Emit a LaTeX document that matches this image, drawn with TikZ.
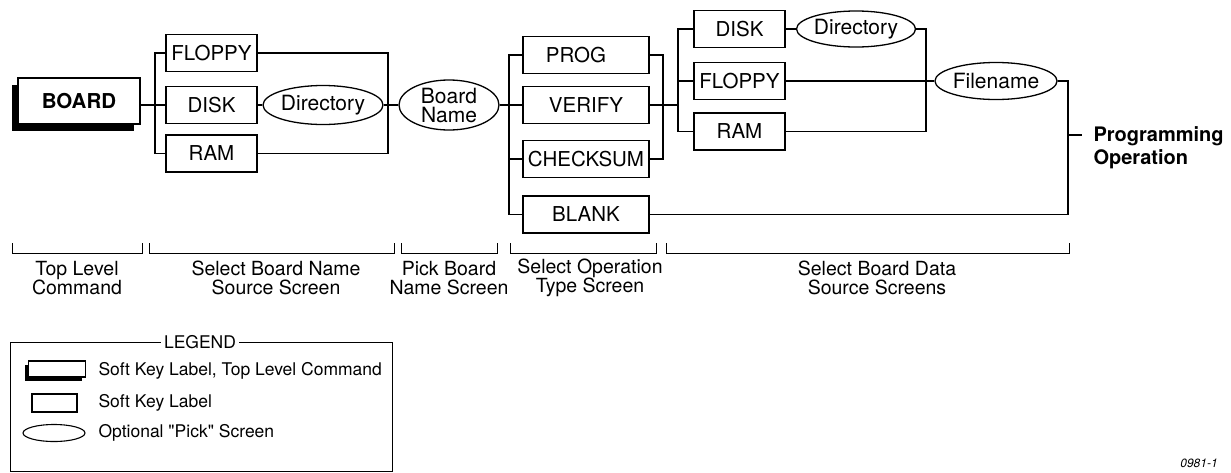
\documentclass[tikz,border=0pt]{standalone}
\usepackage{fontspec}
\setmainfont{TeX Gyre Heros}[Ligatures=TeXOff]
\usetikzlibrary{shapes.geometric,shadows}
\begin{document}
\begin{tikzpicture}[x=1pt,y=-1pt,
  conn/.style={line width=1.15pt},
  key/.style={draw, line width=1.3pt, fill=white, inner sep=0pt, minimum height=37pt, font=\fontsize{20.5}{22}\selectfont},
  pick/.style={draw, ellipse, line width=1.3pt, fill=white, inner sep=0pt, align=center, font=\fontsize{21}{19}\selectfont},
  topkey/.style={draw, line width=2.4pt, fill=white, inner sep=0pt, font=\bfseries\fontsize{20.5}{22}\selectfont,
     drop shadow={shadow xshift=-6.5pt, shadow yshift=-6.5pt, opacity=1, fill=black}},
  lbl/.style={align=center, font=\fontsize{19.5}{19}\selectfont},
  legtext/.style={anchor=west, font=\fontsize{17.5}{20}\selectfont},
  bracket/.style={line width=1pt}
]
\useasboundingbox (0,0) rectangle (1231,472);

% ---- column 1
\node[topkey, minimum width=122pt, minimum height=46pt] (board) at (79,101) {BOARD};
\node[key, minimum width=91pt] (floppyA) at (211.5,53) {FLOPPY};
\node[key, minimum width=91pt] (diskA) at (211.5,105) {DISK};
\node[key, minimum width=91pt] (ramA) at (211.5,153.5) {RAM};
\node[pick, minimum width=120pt, minimum height=39pt] (dirA) at (323,105) {Directory};
\node[pick, minimum width=100pt, minimum height=50pt] (bname) at (449,105) {Board\\Name};
\coordinate (bus1) at (155,105);
\coordinate (bus2) at (388,105);
\draw[conn] (board.east |- diskA.west) -- (diskA.west);
\draw[conn] (floppyA.west) -| (bus1) |- (ramA.west);
\draw[conn] (diskA.east) -- (dirA.west);
\draw[conn] (floppyA.east) -| (bus2) |- (ramA.east);
\draw[conn] (dirA.east) -- (bname.west);

% ---- column 2
\node[key, minimum width=126pt] (prog) at (586,55) {PROG\hspace*{20pt}};
\node[key, minimum width=126pt] (verify) at (586,105) {VERIFY};
\node[key, minimum width=126pt] (checksum) at (586,159) {CHECKSUM};
\node[key, minimum width=126pt] (blank) at (586,214.5) {BLANK};
\coordinate (bus3) at (509,105);
\coordinate (bus4) at (663,105);
\coordinate (bus5) at (678,105);
\draw[conn] (bname.east) -- (verify.west);
\draw[conn] (prog.west) -| (bus3) |- (blank.west);
\draw[conn] (bus3) |- (checksum.west);
\draw[conn] (prog.east) -| (bus4) |- (checksum.east);
\draw[conn] (verify.east) -- (bus5);

% ---- column 3
\node[key, minimum width=91pt] (diskB) at (739.5,29) {DISK};
\node[key, minimum width=91pt] (floppyB) at (739.5,81) {FLOPPY};
\node[key, minimum width=91pt] (ramB) at (739.5,131.5) {RAM};
\node[pick, minimum width=118pt, minimum height=36pt] (dirB) at (856,29) {Directory};
\node[pick, minimum width=118pt, minimum height=37pt] (fname) at (996,81) {Filename};
\coordinate (bus6) at (926,81);
\coordinate (bus7) at (1068,135);
\coordinate (tick) at (1082,135);
\draw[conn] (diskB.west) -| (bus5) |- (ramB.west);
\draw[conn] (bus5) |- (floppyB.west);
\draw[conn] (diskB.east) -- (dirB.west);
\draw[conn] (floppyB.east) -- (fname.west);
\draw[conn] (dirB.east) -| (bus6) |- (ramB.east);
\draw[conn] (fname.east) -| (bus7) |- (blank.east);
\draw[conn] (bus7) -- (tick);
\node[anchor=west, align=left, font=\bfseries\fontsize{20}{23}\selectfont] (progop) at (1090,148) {Programming\\Operation};

% ---- brackets
\draw[bracket] (12,243) -- (12,253) -- (142,253) -- (142,243);
\draw[bracket] (149,243) -- (149,253) -- (394,253) -- (394,243);
\draw[bracket] (401,243) -- (401,253) -- (497,253) -- (497,243);
\draw[bracket] (510,243) -- (510,253) -- (656,253) -- (656,243);
\draw[bracket] (666,243) -- (666,253) -- (1069,253) -- (1069,243);
\node[lbl] (l1) at (77,278) {Top Level\\Command};
\node[lbl] (l2) at (276,278) {Select Board Name\\Source Screen};
\node[lbl] (l3) at (449,278) {Pick Board\\Name Screen};
\node[lbl] (l4) at (590,278) {Select Operation\\Type Screen};
\node[lbl] (l5) at (877,278) {Select Board Data\\Source Screens};

% ---- legend
\draw[line width=1pt] (10,342) rectangle (392,471);
\node[fill=white, inner sep=3pt, font=\fontsize{17.5}{20}\selectfont] (legtitle) at (200,342) {LEGEND};
\node[draw, line width=1.8pt, fill=white, minimum width=57pt, minimum height=16pt, inner sep=0pt,
   drop shadow={shadow xshift=-3.5pt, shadow yshift=-3.5pt, opacity=1, fill=black}] (legA) at (57,369) {};
\node[legtext] (legAt) at (95,371) {Soft Key Label, Top Level Command};
\node[draw, line width=1.1pt, minimum width=45pt, minimum height=18pt, inner sep=0pt] (legB) at (54.5,403) {};
\node[legtext] (legBt) at (95,403) {Soft Key Label};
\node[draw, ellipse, line width=1.1pt, minimum width=62pt, minimum height=17pt, inner sep=0pt] (legC) at (54,433) {};
\node[legtext] (legCt) at (95,433) {Optional "Pick" Screen};

\node[anchor=south, font=\itshape\fontsize{12}{14}\selectfont] (fig) at (1199,471) {0981-1};
\end{tikzpicture}
\end{document}
